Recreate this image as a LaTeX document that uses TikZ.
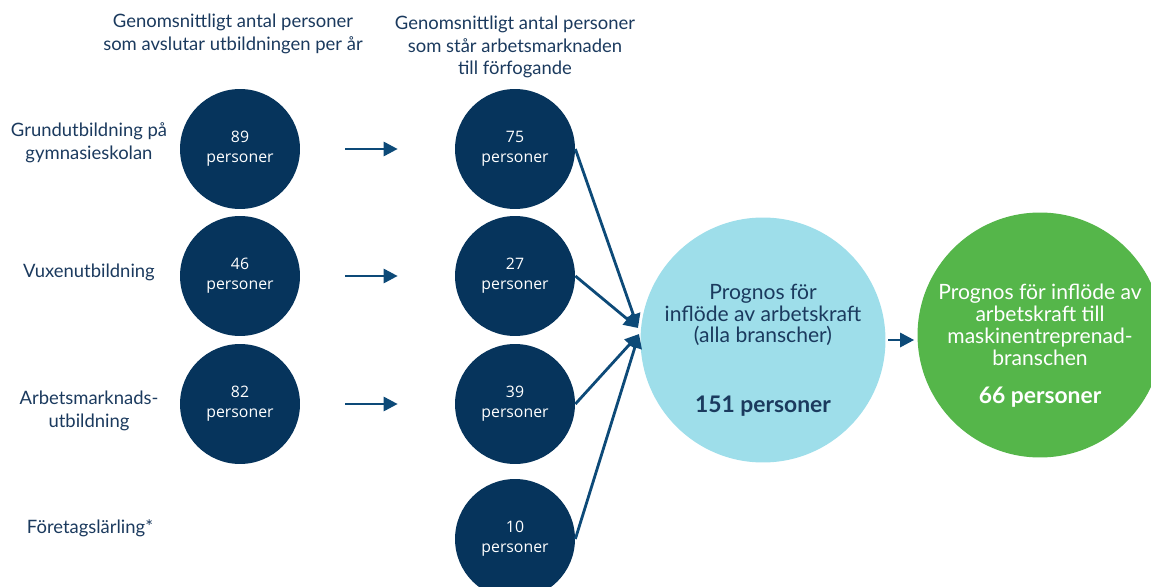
\documentclass[tikz,border=0pt]{standalone}
\usepackage{fontspec}
\setmainfont{Lato}
\newfontfamily\circfont{Open Sans}
\usetikzlibrary{arrows.meta}

\definecolor{navy}{HTML}{06345C}
\definecolor{inktext}{HTML}{1B3A5E}
\definecolor{arrowblue}{HTML}{0D4A78}
\definecolor{lightcyan}{HTML}{9EDEEA}
\definecolor{leafgreen}{HTML}{55B64A}

\begin{document}
\begin{tikzpicture}[x=0.02cm,y=-0.02cm]
% Styles
\tikzset{
    small/.style={circle,fill=navy,minimum size=2.4cm,inner sep=0pt,
        text=white,font=\circfont\fontsize{9}{11.5}\selectfont,align=center},
    big/.style={circle,minimum size=4.9cm,inner sep=0pt},
    bigtext/.style={align=center,inner sep=0pt,font=\fontsize{12}{12.5}\selectfont},
    label/.style={text=inktext,align=center,font=\fontsize{10.5}{13}\selectfont},
    flow/.style={draw=arrowblue,line width=1.6pt,-{Triangle[length=2.8mm,width=2.8mm]}}
}
\useasboundingbox (0,0) rectangle (1151,587);
% Headers
\node[label] (hleft) at (233,34) {Genomsnittligt antal personer\\som avslutar utbildningen per år};
\node[label] (hright) at (515,47) {Genomsnittligt antal personer\\som står arbetsmarknaden\\till förfogande};
% Education types
\node[label] (ta) at (89,143) {Grundutbildning på\\gymnasieskolan};
\node[label] (tb) at (89,272) {Vuxenutbildning};
\node[label] (tc) at (89,411) {Arbetsmarknads-\\utbildning};
\node[label] (td) at (90,528) {Företagslärling*};
% Circles
\node[small] (a1) at (240,149) {89\\personer};
\node[small] (a2) at (240,276) {46\\personer};
\node[small] (a3) at (240,404) {82\\personer};
\node[small] (b1) at (515,149) {75\\personer};
\node[small] (b2) at (515,276) {27\\personer};
\node[small] (b3) at (515,404) {39\\personer};
\node[small] (b4) at (515,539) {10\\personer};
\node[big,fill=lightcyan] (prog) at (763,340) {};
\node[bigtext,text=inktext] (progtxt) at (763,350)
    {Prognos för\\inflöde av arbetskraft\\(alla branscher)\\[9.5mm]{\fontsize{13}{13}\selectfont\textbf{151 personer}}};
\node[big,fill=leafgreen] (mask) at (1040,335) {};
\node[bigtext,text=white] (masktxt) at (1040,346)
    {Prognos för inflöde av\\arbetskraft till\\maskinentreprenad-\\branschen\\[3.2mm]{\fontsize{13}{13}\selectfont\textbf{66 personer}}};
% Connection
\coordinate (in1) at (638,328);
\coordinate (in2) at (639,334);
\foreach \i in {1,2,3}
    \draw[flow,shorten <=0.9cm,shorten >=1.14cm] (a\i) -- (b\i);
\draw[flow] (b1.east) -- (in1);
\draw[flow] (b2.east) -- (in1);
\draw[flow] (b3.east) -- (in2);
\draw[flow] (b4.east) -- (in2);
\draw[flow,shorten <=0.5mm,shorten >=0.6mm] (prog) -- (prog -| mask.west);
\end{tikzpicture}
\end{document}
